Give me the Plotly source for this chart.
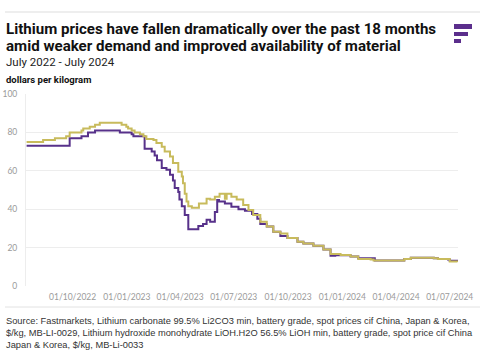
import plotly.graph_objects as go

# ---- data ----
carbonate_dates = [
    "2022-07-15", "2022-09-26", "2022-10-16", "2022-10-27", "2022-11-08", "2022-12-20",
    "2023-01-09", "2023-01-12", "2023-01-31", "2023-02-12", "2023-02-17", "2023-02-21",
    "2023-03-01", "2023-03-09", "2023-03-15", "2023-03-20", "2023-03-23", "2023-03-29",
    "2023-03-31", "2023-04-04", "2023-04-09", "2023-04-15", "2023-05-02", "2023-05-10",
    "2023-05-16", "2023-05-22", "2023-05-30", "2023-06-03", "2023-06-06", "2023-06-16",
    "2023-06-27", "2023-07-09", "2023-07-20", "2023-08-01", "2023-08-10", "2023-08-15",
    "2023-08-26", "2023-09-06", "2023-09-18", "2023-09-30", "2023-10-17", "2023-10-27",
    "2023-11-13", "2023-11-30", "2023-12-12", "2023-12-20", "2023-12-29", "2024-01-15",
    "2024-01-28", "2024-02-23", "2024-02-25", "2024-04-09", "2024-04-15", "2024-04-26",
    "2024-06-04", "2024-06-11", "2024-06-28", "2024-07-01", "2024-07-14",
]
carbonate_values = [
    73, 77, 78, 80, 81, 80,
    79, 78, 71.5, 70, 68, 65.5,
    61.5, 60.5, 58, 55, 51, 49,
    45, 41.5, 37, 29.5, 31.3, 32.3,
    34.5, 33.5, 38.5, 44.8, 44, 43,
    41.3, 40, 39.2, 37.5, 35, 32.3,
    31, 28.3, 26, 25, 23, 22.2,
    21, 19, 15.7, 16, 16, 15.3,
    14.4, 14.4, 13.3, 13.3, 14, 14.7,
    14.5, 14, 13.8, 13.2, 13,
]

hydroxide_dates = [
    "2022-07-15", "2022-08-12", "2022-09-01", "2022-09-20", "2022-09-26", "2022-10-16",
    "2022-10-19", "2022-10-30", "2022-11-08", "2022-11-16", "2022-12-23", "2022-12-31",
    "2023-01-03", "2023-01-09", "2023-01-14", "2023-01-23", "2023-01-29", "2023-02-03",
    "2023-02-15", "2023-02-20", "2023-03-01", "2023-03-06", "2023-03-15", "2023-03-20",
    "2023-03-29", "2023-04-04", "2023-04-06", "2023-04-09", "2023-04-12", "2023-04-15",
    "2023-04-21", "2023-05-03", "2023-05-16", "2023-05-22", "2023-05-30", "2023-06-07",
    "2023-06-16", "2023-06-19", "2023-06-27", "2023-07-06", "2023-07-17", "2023-07-26",
    "2023-08-03", "2023-08-15", "2023-08-26", "2023-09-06", "2023-09-18", "2023-09-30",
    "2023-10-17", "2023-10-27", "2023-11-13", "2023-11-30", "2023-12-12", "2023-12-29",
    "2024-01-15", "2024-01-28", "2024-02-18", "2024-02-23", "2024-04-09", "2024-04-15",
    "2024-04-26", "2024-06-04", "2024-06-11", "2024-06-28", "2024-07-01", "2024-07-14",
]
hydroxide_values = [
    75, 76, 77, 78, 80, 81,
    82, 83, 84, 85, 84, 83,
    82, 81, 80, 79, 78, 76.5,
    76, 74.5, 72.5, 70, 67.5, 64,
    59.5, 57, 53.5, 48, 44, 41.5,
    40.8, 43, 45.5, 45, 46.5, 48,
    45.5, 48, 46.5, 45, 42.2, 39.6,
    37, 33.5, 31, 28.3, 27.4, 25,
    23, 22.2, 21, 19, 16.7, 16.2,
    15.3, 14, 13.8, 13.3, 13.3, 14,
    14.7, 14.5, 14, 14, 12.8, 12.5,
]

x_tick_vals = ["2022-10-01", "2023-01-01", "2023-04-01", "2023-07-01",
               "2023-10-01", "2024-01-01", "2024-04-01", "2024-07-01"]
x_tick_text = ["01/10/2022", "01/01/2023", "01/04/2023", "01/07/2023",
               "01/10/2023", "01/01/2024", "01/04/2024", "01/07/2024"]
y_tick_vals = [0, 20, 40, 60, 80, 100]

title_lines = ["Lithium prices have fallen dramatically over the past 18 months",
               "amid weaker demand and improved availability of material"]
subtitle_text = "July 2022 - July 2024"
unit_text = "dollars per kilogram"
source_text = ("Source: Fastmarkets, Lithium carbonate 99.5% Li2CO3 min, battery grade, spot prices cif China, Japan &amp; Korea,<br>"
               "&#36;/kg, MB-LI-0029, Lithium hydroxide monohydrate LiOH.H2O 56.5% LiOH min, battery grade, spot price cif China<br>"
               "Japan &amp; Korea, &#36;/kg, MB-Li-0033")

# ---- layout geometry (pixels) ----
W, H = 485, 360
L, R, T, B = 26, 27, 94, 74
PW, PH = W - L - R, H - T - B


def px(x):
    return (x - L) / PW


def py(y):
    return (H - B - y) / PH


PURPLE = "#57318a"
GOLD = "#c8bb5c"

fig = go.Figure()
fig.add_trace(go.Scatter(x=carbonate_dates, y=carbonate_values, mode="lines",
                         line=dict(color=PURPLE, width=2, shape="hv"),
                         name="Lithium carbonate", showlegend=False))
fig.add_trace(go.Scatter(x=hydroxide_dates, y=hydroxide_values, mode="lines",
                         line=dict(color=GOLD, width=2, shape="hv"),
                         name="Lithium hydroxide", showlegend=False))

annotations = [
    dict(text="<b>" + title_lines[0] + "</b>", x=px(4), y=py(18),
         font=dict(family="Roboto", size=15.1, color="#111111")),
    dict(text="<b>" + title_lines[1] + "</b>", x=px(4), y=py(34.5),
         font=dict(family="Roboto", size=15.1, color="#111111")),
    dict(text=subtitle_text, x=px(4), y=py(53), font=dict(family="Roboto", size=11.5, color="#222222")),
    dict(text="<b>" + unit_text + "</b>", x=px(4), y=py(72),
         font=dict(family="Roboto", size=9.5, color="#111111")),
    dict(text=source_text, x=px(4), y=py(314),
         font=dict(family="Liberation Sans", size=9.3, color="#333333")),
]
for a in annotations:
    a.update(xref="paper", yref="paper", xanchor="left", yanchor="top", align="left", showarrow=False)

shapes = [
    dict(type="line", xref="paper", yref="paper", x0=px(5), x1=px(480), y0=py(12), y1=py(12),
         line=dict(color="#dddddd", width=1)),
    dict(type="line", xref="paper", yref="paper", x0=px(5), x1=px(480), y0=py(307), y1=py(307),
         line=dict(color="#e2e2e2", width=1)),
    # logo bars
    dict(type="rect", xref="paper", yref="paper", x0=px(454), x1=px(472), y0=py(29), y1=py(24),
         fillcolor="#5b2e8c", line=dict(width=0)),
    dict(type="rect", xref="paper", yref="paper", x0=px(454), x1=px(468), y0=py(36), y1=py(32),
         fillcolor="#5b2e8c", line=dict(width=0)),
    dict(type="rect", xref="paper", yref="paper", x0=px(454), x1=px(461), y0=py(43), y1=py(39),
         fillcolor="#5b2e8c", line=dict(width=0)),
]

fig.update_layout(
    width=W, height=H,
    margin=dict(l=L, r=R, t=T, b=B, pad=0, autoexpand=False),
    paper_bgcolor="white", plot_bgcolor="white",
    annotations=annotations, shapes=shapes,
    hovermode=False,
    xaxis=dict(type="date", range=["2022-07-14", "2024-07-15"],
               tickvals=x_tick_vals, ticktext=x_tick_text, showgrid=False,
               showline=False, zeroline=False, ticks="", tickangle=0, automargin=False,
               ticklabelstandoff=4,
               tickfont=dict(family="Lato", size=8.5, color="#9a9a9a")),
    yaxis=dict(range=[0, 100], tickvals=y_tick_vals, showgrid=True, gridcolor="#ededed",
               gridwidth=1, showline=True, linecolor="#ededed", zeroline=False, ticks="",
               ticklabelstandoff=6, automargin=False,
               tickfont=dict(family="Lato", size=8.5, color="#9a9a9a")),
)

fig.write_html("out.html", config={"displayModeBar": False, "staticPlot": True},
               post_script="document.body.style.margin='0';")
